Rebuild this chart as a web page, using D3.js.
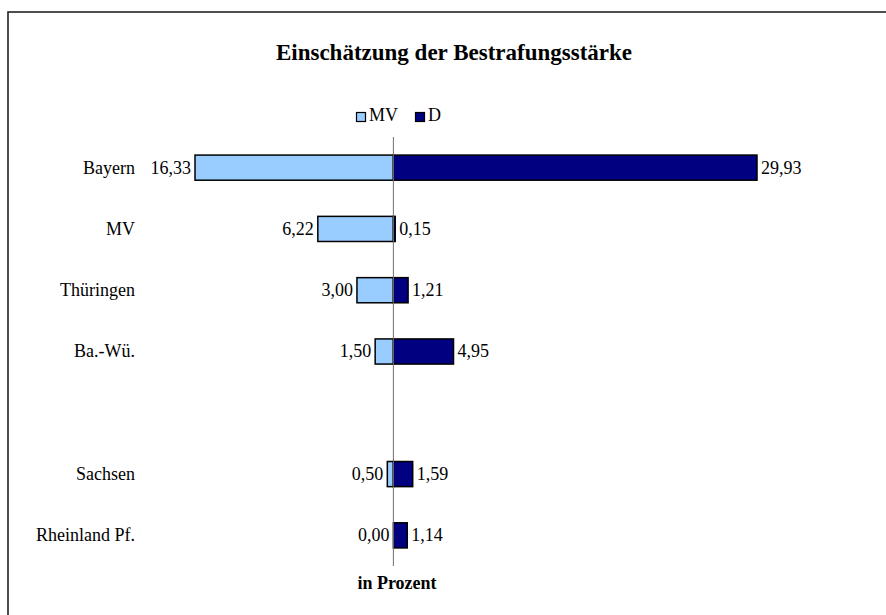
<!DOCTYPE html>
<html lang="de">
    <head>
        <meta charset="UTF-8" />
        <title>Einschätzung der Bestrafungsstärke</title>
        <script src="https://d3js.org/d3.v7.min.js"></script>
        <style>
            body {
                margin: 0;
                background: #fff;
            }
            svg text {
                font-family: 'Liberation Serif', 'Times New Roman', serif;
                fill: #000;
            }
        </style>
    </head>
    <body>
        <svg width="886" height="615"></svg>

        <script>
            // data
            const categories = ['Bayern', 'MV', 'Thüringen', 'Ba.-Wü.', '', 'Sachsen', 'Rheinland Pf.'];
            const valuesMV = [16.33, 6.22, 3.0, 1.5, null, 0.5, 0.0];
            const valuesD = [29.93, 0.15, 1.21, 4.95, null, 1.59, 1.14];
            const seriesNames = ['MV', 'D'];
            const colors = ['#99ccff', '#000080'];

            const svg = d3.select('svg');
            const fmt = (v) => v.toFixed(2).replace('.', ',');

            // frame (only left and top edges are visible)
            svg.append('rect')
                .attr('x', 8)
                .attr('y', 12)
                .attr('width', 1000)
                .attr('height', 1000)
                .attr('fill', 'none')
                .attr('stroke', '#222')
                .attr('stroke-width', 1.6);

            const x = d3.scaleLinear().domain([-16.33, 29.93]).range([195, 757]);
            const y = d3.scaleBand().domain(d3.range(categories.length)).range([137, 566]).paddingInner(0.59).paddingOuter(0.295);

            // title
            svg.append('text')
                .attr('x', 454)
                .attr('y', 60)
                .attr('text-anchor', 'middle')
                .style('font-size', '23px')
                .style('font-weight', 'bold')
                .text('Einschätzung der Bestrafungsstärke');

            // legend
            const legend = svg.append('g').attr('transform', 'translate(356,112)');
            const legX = [0, 59];
            seriesNames.forEach((name, i) => {
                legend.append('rect')
                    .attr('x', legX[i] + 0.5)
                    .attr('y', 0.5)
                    .attr('width', 9)
                    .attr('height', 9)
                    .attr('fill', colors[i])
                    .attr('stroke', '#000')
                    .attr('stroke-width', 1.2);
                legend.append('text')
                    .attr('x', legX[i] + 13)
                    .attr('y', 9)
                    .style('font-size', '18px')
                    .text(name);
            });

            const rows = categories.map((c, i) => ({ i, c, mv: valuesMV[i], d: valuesD[i] }));
            const data = rows.filter((r) => r.mv !== null);

            // bars MV (to the left)
            svg.selectAll('.bar-mv')
                .data(data.filter((r) => r.mv > 0))
                .join('rect')
                .attr('class', 'bar-mv')
                .attr('x', (r) => x(-r.mv))
                .attr('y', (r) => y(r.i))
                .attr('width', (r) => x(0) - x(-r.mv))
                .attr('height', y.bandwidth())
                .attr('fill', colors[0])
                .attr('stroke', '#000')
                .attr('stroke-width', 1.5);

            // bars D (to the right)
            svg.selectAll('.bar-d')
                .data(data.filter((r) => r.d > 0))
                .join('rect')
                .attr('class', 'bar-d')
                .attr('x', x(0))
                .attr('y', (r) => y(r.i))
                .attr('width', (r) => x(r.d) - x(0))
                .attr('height', y.bandwidth())
                .attr('fill', colors[1])
                .attr('stroke', '#000')
                .attr('stroke-width', 1.5);

            // zero line
            svg.append('line')
                .attr('x1', x(0))
                .attr('x2', x(0))
                .attr('y1', 137)
                .attr('y2', 566)
                .attr('stroke', '#707070')
                .attr('stroke-width', 1);

            // value labels
            svg.selectAll('.lab-mv')
                .data(data)
                .join('text')
                .attr('class', 'lab-mv')
                .attr('x', (r) => x(-r.mv) - 4)
                .attr('y', (r) => y(r.i) + y.bandwidth() / 2)
                .attr('dy', '0.33em')
                .attr('text-anchor', 'end')
                .style('font-size', '18px')
                .text((r) => fmt(r.mv));

            svg.selectAll('.lab-d')
                .data(data)
                .join('text')
                .attr('class', 'lab-d')
                .attr('x', (r) => x(r.d) + 4)
                .attr('y', (r) => y(r.i) + y.bandwidth() / 2)
                .attr('dy', '0.33em')
                .style('font-size', '18px')
                .text((r) => fmt(r.d));

            // category labels
            svg.selectAll('.cat')
                .data(rows.filter((r) => r.c !== ''))
                .join('text')
                .attr('class', 'cat')
                .attr('x', 135)
                .attr('y', (r) => y(r.i) + y.bandwidth() / 2)
                .attr('dy', '0.33em')
                .attr('text-anchor', 'end')
                .style('font-size', '18px')
                .text((r) => r.c);

            // axis title
            svg.append('text')
                .attr('x', 397)
                .attr('y', 589)
                .attr('text-anchor', 'middle')
                .style('font-size', '18px')
                .style('font-weight', 'bold')
                .text('in Prozent');
        </script>
    </body>
</html>
